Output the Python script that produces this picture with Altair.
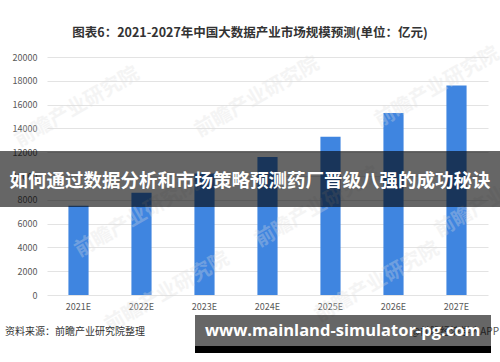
import altair as alt
import pandas as pd

years = ["2021E", "2022E", "2023E", "2024E", "2025E", "2026E", "2027E"]
values = [7500, 8600, 10200, 11600, 13300, 15300, 17600]
y_ticks = [0, 2000, 4000, 6000, 8000, 10000, 12000, 14000, 16000, 18000, 20000]

title_text = "图表6：2021-2027年中国大数据产业市场规模预测(单位：亿元)"
source_text = "资料来源：前瞻产业研究院整理"
app_text = "@前瞻经济学人APP"
banner_text = "如何通过数据分析和市场策略预测药厂晋级八强的成功秘诀"
url_text = "www.mainland-simulator-pg.com"
wm_text = "前瞻产业研究院"

df = pd.DataFrame({"year": years, "value": values})
FONT = "Noto Sans CJK SC"

W, H = 441, 238

bars = alt.Chart(df).mark_bar(color="#3F85E0").encode(
    x=alt.X("year:N", sort=years,
            scale=alt.Scale(paddingInner=0.68, paddingOuter=0.34),
            axis=alt.Axis(title=None, labelAngle=0, ticks=False, domain=False,
                          labelFontSize=9, labelColor="#595959", labelFont=FONT,
                          labelPadding=7)),
    y=alt.Y("value:Q", scale=alt.Scale(domain=[0, 20000], nice=False),
            axis=alt.Axis(title=None, values=y_ticks, ticks=False, domain=False,
                          format="d",
                          labelFontSize=9, labelColor="#595959", labelFont=FONT,
                          labelPadding=10, gridColor="#E3E3E3", gridWidth=1)),
)

wm_df = pd.DataFrame({"t": [wm_text] * 8,
                      "px": [30, 210, 390, 90, 270, 450, 120, 330],
                      "py": [50, 40, 30, 160, 150, 140, 235, 225]})
watermarks = alt.Chart(wm_df).mark_text(
    font=FONT, fontSize=20, fontWeight="bold", color="#DDDDDD", opacity=0.3, angle=330
).encode(x=alt.X("px:Q", scale=None), y=alt.Y("py:Q", scale=None), text="t:N")

def txt(t, x, y, size, color, weight="normal", align="center", baseline="middle", font=FONT):
    return alt.Chart(pd.DataFrame({"t": [t]})).mark_text(
        font=font, fontSize=size, color=color, fontWeight=weight,
        align=align, baseline=baseline
    ).encode(x=alt.value(x), y=alt.value(y), text="t:N")

title = txt(title_text, 203, -24, 12.5, "#333333", weight="bold")
source = txt(source_text, -42, 274.5, 10, "#333333", align="left")
app = txt(app_text, 452, 274.5, 10, "#555555", align="right")

def rect(x1, x2, y1, y2, color, opacity):
    return alt.Chart(pd.DataFrame({"a": [0]})).mark_rect(color=color, opacity=opacity).encode(
        x=alt.value(x1), x2=alt.value(x2), y=alt.value(y1), y2=alt.value(y2))

banner = rect(-47, 453, 94, 150, "#000000", 0.6)
banner_t = txt(banner_text, 203, 124, 18.5, "#FFFFFF", weight="bold")

url_bg = rect(148, 444, 258, 290, "#000000", 0.6)
url_black = rect(148, 444, 289, 296, "#000000", 1.0)
url_t = txt(url_text, 158, 274, 16.5, "#FFFFFF", weight="bold", align="left", font="Open Sans")

chart = alt.layer(
    bars, watermarks, title, source, app, banner, banner_t, url_bg, url_black, url_t
).properties(
    width=W, height=H,
    autosize=alt.AutoSizeParams(type="none"),
    padding={"left": 47, "top": 57, "right": 12, "bottom": 67},
    background="#FFFFFF",
).configure_view(stroke=None)

chart.save("out.html", embed_options={"renderer": "svg", "actions": False})
